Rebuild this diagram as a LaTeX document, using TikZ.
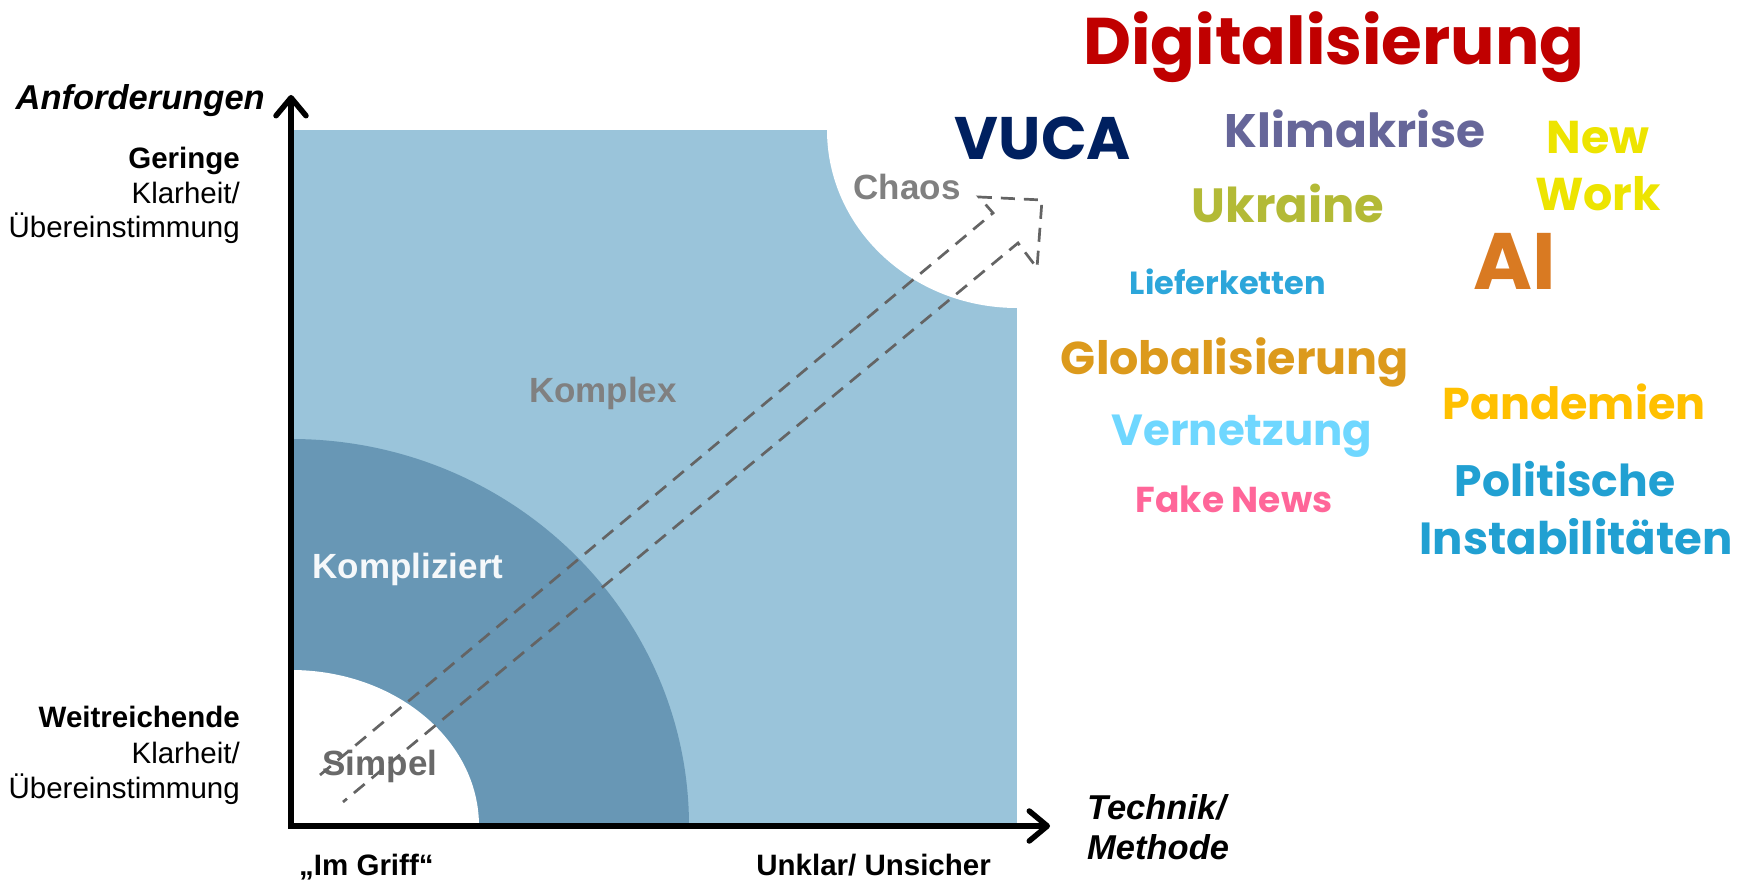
\documentclass[tikz,border=0pt]{standalone}
\usepackage{fontspec}
\setmainfont{Liberation Sans}
\newfontfamily\cloudfont{Poppins}
\usepackage{tikz}
\usetikzlibrary{arrows.meta}

\definecolor{komplexblue}{HTML}{9AC4DA}
\definecolor{kompliziertblue}{HTML}{6897B5}
\definecolor{labelgray}{HTML}{808080}
\definecolor{simpelgray}{HTML}{696969}
\definecolor{arrowgray}{HTML}{646464}
\definecolor{digired}{HTML}{C00000}
\definecolor{vucanavy}{HTML}{002060}
\definecolor{klimapurple}{HTML}{666699}
\definecolor{newyellow}{HTML}{EDE400}
\definecolor{ukraineolive}{HTML}{B3BA36}
\definecolor{lieferblue}{HTML}{2CA6DA}
\definecolor{aiorange}{HTML}{D97A22}
\definecolor{globgold}{HTML}{DC9A1C}
\definecolor{pandemyellow}{HTML}{FFC000}
\definecolor{vernetzcyan}{HTML}{6FD7FF}
\definecolor{fakepink}{HTML}{FF6699}
\definecolor{politblue}{HTML}{21A0D2}

\begin{document}
\begin{tikzpicture}[x=1pt,y=1pt,
    axis/.style={line width=5.5pt,{Straight Barb[length=18pt,width=30pt,round]}-{Straight Barb[length=18pt,width=30pt,round]}},
    hollowarrow/.style={draw=arrowgray,line width=2.7pt,dash pattern=on 14pt off 9pt},
    region/.style={inner sep=0pt,font=\fontsize{35}{35}\selectfont\bfseries},
    side/.style={inner sep=0pt,font=\fontsize{29.5}{29.5}\selectfont},
    sidebold/.style={inner sep=0pt,font=\fontsize{29.5}{29.5}\selectfont\bfseries},
    axislabel/.style={inner sep=0pt,font=\fontsize{34.5}{34.5}\selectfont\bfseries\itshape},
    cloud/.style={inner sep=0pt,anchor=base}]
    \useasboundingbox (0,0) rectangle (1752,881);

    \coordinate (O) at (291,55);
    \coordinate (tr) at (1017,751);
    \coordinate (ytip) at (291,786);
    \coordinate (xtip) at (1050,55);

    % Felder
    \fill[komplexblue] (O) rectangle (tr);
    \fill[white] (tr) -- ++(-190,0) arc[start angle=180,end angle=270,x radius=190,y radius=178] -- cycle;
    \fill[kompliziertblue] (O) -- ++(398,0) arc[start angle=0,end angle=90,x radius=398,y radius=387] -- cycle;
    \fill[white] (O) -- ++(188,0) arc[start angle=0,end angle=90,x radius=188,y radius=156] -- cycle;

    \node[region, text=labelgray, anchor=base] (chaos) at (907,681) {Chaos};
    \node[region, text=labelgray, anchor=base] (komplex) at (603,478) {Komplex};
    \node[region, text=white!93!kompliziertblue, anchor=base] (kompliziert) at (408,302) {Kompliziert};
    \node[region, text=simpelgray, anchor=base] (simpel) at (380,106) {Simpel};

    \draw[axis] (ytip) -- (O) -- (xtip);

    % Pfeil
    \coordinate (s1) at (320,106);
    \coordinate (h1) at (993,668);
    \coordinate (b1) at (979,684);
    \coordinate (tip) at (1042,681);
    \coordinate (b2) at (1037,613);
    \coordinate (h2) at (1018,638);
    \coordinate (s2) at (343,79);
    \draw[hollowarrow] (s1) -- (h1) -- (b1) -- (tip) -- (b2) -- (h2) -- (s2);

    % Achsen
    \node[axislabel, anchor=base east] (anf) at (265,771) {Anforderungen};
    \node[sidebold, anchor=base east] (geringe) at (240,712) {Geringe};
    \node[side, anchor=base east] (klar1) at (240,677) {Klarheit/};
    \node[side, anchor=base east] (ueber1) at (240,643) {Übereinstimmung};
    \node[sidebold, anchor=base east] (weit) at (240,154) {Weitreichende};
    \node[side, anchor=base east] (klar2) at (240,118) {Klarheit/};
    \node[side, anchor=base east] (ueber2) at (240,83) {Übereinstimmung};
    \node[sidebold, anchor=base west] (griff) at (299,6) {„Im Griff“};
    \node[sidebold, anchor=base east] (unklar) at (991,6) {Unklar/ Unsicher};
    \node[axislabel, anchor=base west] (technik) at (1087,62) {Technik/};
    \node[axislabel, anchor=base west] (methode) at (1087,22) {Methode};

    % Begriffe
    \node[cloud, text=digired, font=\cloudfont\bfseries\fontsize{66}{66}\selectfont] (digi) at (1334,816) {Digitalisierung};
    \node[cloud, text=vucanavy, font=\cloudfont\bfseries\fontsize{60}{60}\selectfont] (vuca) at (1043,721) {VUCA};
    \node[cloud, text=klimapurple, font=\cloudfont\bfseries\fontsize{47}{47}\selectfont] (klima) at (1355,733) {Klimakrise};
    \node[cloud, text=newyellow, font=\cloudfont\bfseries\fontsize{46}{46}\selectfont] (new) at (1598,727) {New};
    \node[cloud, text=newyellow, font=\cloudfont\bfseries\fontsize{46}{46}\selectfont] (work) at (1598,670) {Work};
    \node[cloud, text=ukraineolive, font=\cloudfont\bfseries\fontsize{48}{48}\selectfont] (ukraine) at (1288,658) {Ukraine};
    \node[cloud, text=lieferblue, font=\cloudfont\bfseries\fontsize{32}{32}\selectfont] (liefer) at (1228,586) {Lieferketten};
    \node[cloud, text=aiorange, font=\cloudfont\bfseries\fontsize{80}{80}\selectfont] (ai) at (1515,591) {AI};
    \node[cloud, text=globgold, font=\cloudfont\bfseries\fontsize{46}{46}\selectfont] (glob) at (1235,506) {Globalisierung};
    \node[cloud, text=pandemyellow, font=\cloudfont\bfseries\fontsize{44.5}{44.5}\selectfont] (pandem) at (1574,461) {Pandemien};
    \node[cloud, text=vernetzcyan, font=\cloudfont\bfseries\fontsize{43.5}{43.5}\selectfont] (vernetz) at (1242,435) {Vernetzung};
    \node[cloud, text=fakepink, font=\cloudfont\bfseries\fontsize{36}{36}\selectfont] (fake) at (1234,368) {Fake News};
    \node[cloud, text=politblue, font=\cloudfont\bfseries\fontsize{44}{44}\selectfont] (polit) at (1565,384) {Politische};
    \node[cloud, text=politblue, font=\cloudfont\bfseries\fontsize{45}{45}\selectfont] (instab) at (1576,326) {Instabilitäten};
\end{tikzpicture}
\end{document}
